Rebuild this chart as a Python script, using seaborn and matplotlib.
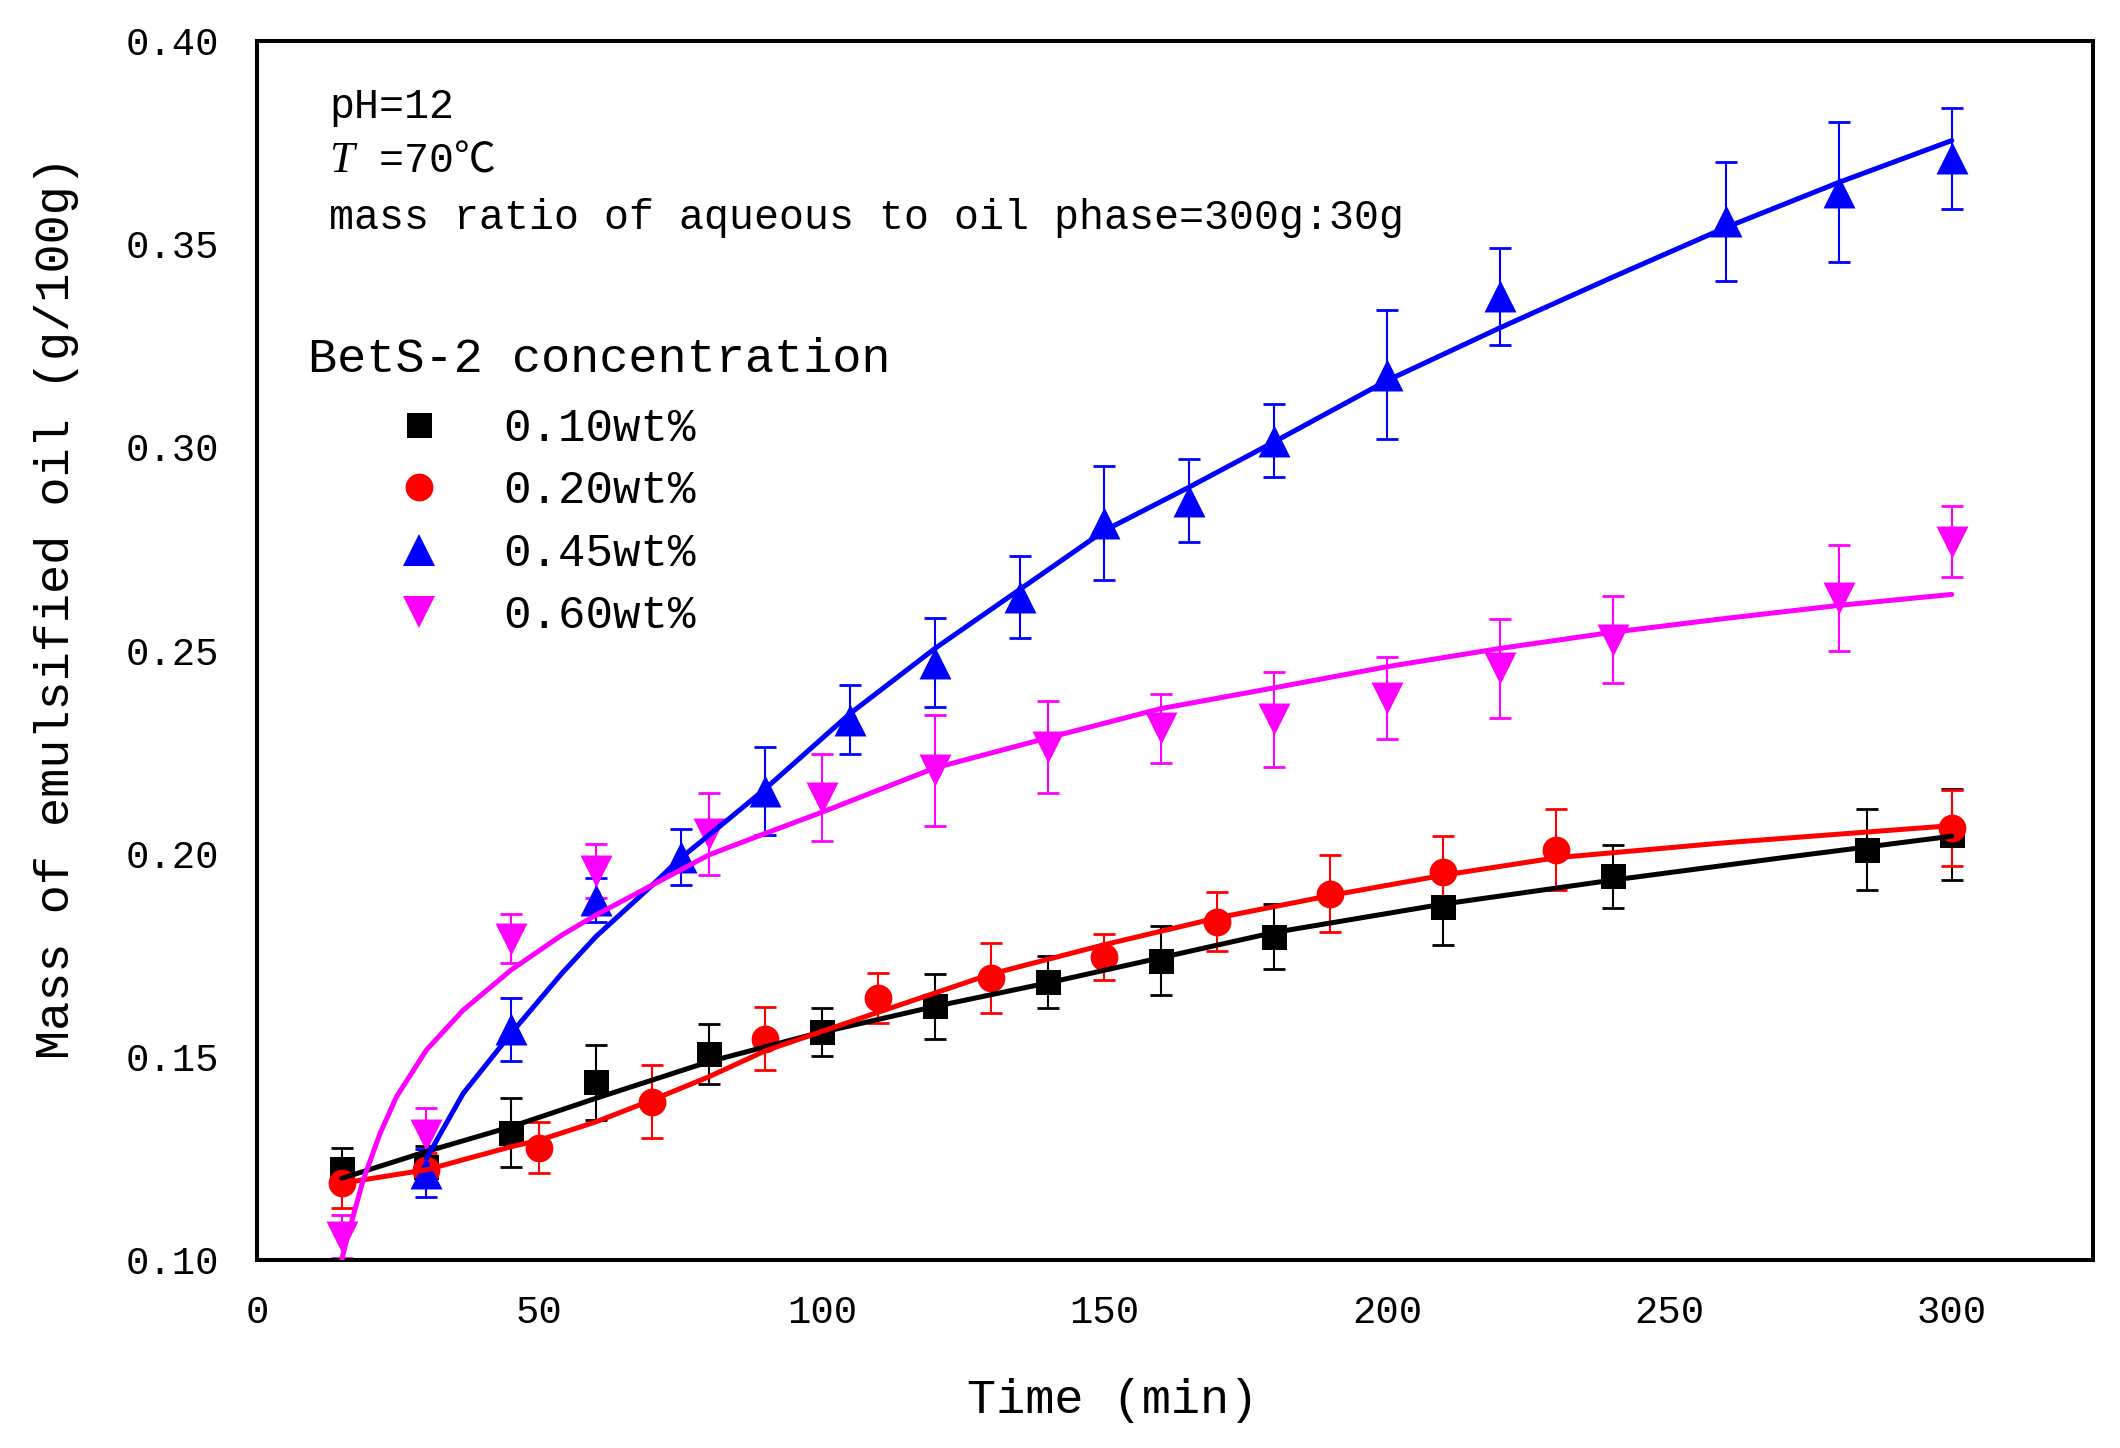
import numpy as np
import pandas as pd
import matplotlib
matplotlib.use("Agg")
import matplotlib.pyplot as plt
from matplotlib.lines import Line2D
from matplotlib.ticker import FormatStrFormatter
import seaborn as sns

# ---------------- data ----------------
labels = ["0.10wt%", "0.20wt%", "0.45wt%", "0.60wt%"]

t_010 = [15, 30, 45, 60, 80, 100, 120, 140, 160, 180, 210, 240, 285, 300]
m_010 = [0.1225, 0.1230, 0.1313, 0.1437, 0.1507, 0.1560, 0.1624, 0.1684, 0.1737, 0.1796, 0.1868, 0.1944, 0.2010, 0.2047]
e_010 = [0.0050, 0.0050, 0.0085, 0.0092, 0.0075, 0.0059, 0.0081, 0.0063, 0.0086, 0.0080, 0.0094, 0.0078, 0.0100, 0.0113]

t_020 = [15, 30, 50, 70, 90, 110, 130, 150, 170, 190, 210, 230, 300]
m_020 = [0.1189, 0.1222, 0.1276, 0.1390, 0.1545, 0.1645, 0.1694, 0.1745, 0.1833, 0.1901, 0.1956, 0.2010, 0.2063]
e_020 = [0.0060, 0.0042, 0.0063, 0.0089, 0.0077, 0.0061, 0.0085, 0.0057, 0.0072, 0.0095, 0.0088, 0.0100, 0.0094]

t_045 = [30, 45, 60, 75, 90, 105, 120, 135, 150, 165, 180, 200, 220, 260, 280, 300]
m_045 = [0.1214, 0.1568, 0.1885, 0.1991, 0.2154, 0.2330, 0.2470, 0.2631, 0.2813, 0.2869, 0.3016, 0.3179, 0.3372, 0.3556, 0.3628, 0.3711]
e_045 = [0.0060, 0.0078, 0.0054, 0.0069, 0.0108, 0.0085, 0.0110, 0.0101, 0.0140, 0.0103, 0.0090, 0.0159, 0.0119, 0.0147, 0.0172, 0.0125]

t_060 = [15, 30, 45, 60, 80, 100, 120, 140, 160, 180, 200, 220, 240, 280, 300]
m_060 = [0.1057, 0.1308, 0.1791, 0.1957, 0.2048, 0.2138, 0.2205, 0.2262, 0.2309, 0.2331, 0.2383, 0.2456, 0.2527, 0.2630, 0.2768]
e_060 = [0.0053, 0.0066, 0.0060, 0.0067, 0.0101, 0.0107, 0.0137, 0.0113, 0.0085, 0.0117, 0.0100, 0.0122, 0.0106, 0.0130, 0.0087]

# fitted curves
ft_010 = [15, 30, 45, 60, 80, 98, 120, 140, 160, 180, 210, 240, 270, 300]
fm_010 = [0.1201, 0.1267, 0.1328, 0.1398, 0.1488, 0.1554, 0.1624, 0.1682, 0.1744, 0.1806, 0.1876, 0.1935, 0.1990, 0.2043]

ft_020 = [15, 30, 45, 50, 60, 70, 80, 90, 110, 130, 150, 170, 190, 210, 230, 260, 300]
fm_020 = [0.1189, 0.1222, 0.1279, 0.1295, 0.1340, 0.1394, 0.1451, 0.1515, 0.1610, 0.1704, 0.1776, 0.1842, 0.1897, 0.1947, 0.1990, 0.2027, 0.2069]

ft_045 = [30, 36.5, 45, 54, 60, 70, 75, 84, 90, 105, 120, 135, 150, 165, 180, 200, 220, 240, 260, 280, 300]
fm_045 = [0.1250, 0.1410, 0.1558, 0.1706, 0.1796, 0.1923, 0.1989, 0.2091, 0.2160, 0.2345, 0.2505, 0.2650, 0.2795, 0.2902, 0.3013, 0.3164, 0.3294, 0.3419, 0.3541, 0.3652, 0.3755]

ft_060 = [15, 16, 18.8, 21.8, 24.7, 30, 36.5, 45, 54, 60, 70, 80, 90, 100, 120, 140, 160, 180, 200, 220, 240, 260, 280, 300]
fm_060 = [0.1000, 0.1057, 0.1197, 0.1312, 0.1402, 0.1517, 0.1615, 0.1714, 0.1800, 0.1849, 0.1923, 0.1997, 0.2050, 0.2102, 0.2211, 0.2285, 0.2357, 0.2408, 0.2460, 0.2505, 0.2545, 0.2579, 0.2611, 0.2638]

x_ticks = [0, 50, 100, 150, 200, 250, 300]
y_ticks = [0.10, 0.15, 0.20, 0.25, 0.30, 0.35, 0.40]

# ---------------- style ----------------
sns.set_theme(style="white")
plt.rcParams["font.family"] = ["Liberation Mono", "Noto Sans CJK SC", "DejaVu Sans"]
plt.rcParams["axes.edgecolor"] = "black"
plt.rcParams["axes.linewidth"] = 2.9

colors = ["#000000", "#FF0000", "#0000FF", "#FF00FF"]
markers = ["s", "o", "^", "v"]
msizes = [18, 20, 23, 23]

series = [
    (t_010, m_010, e_010, ft_010, fm_010),
    (t_020, m_020, e_020, ft_020, fm_020),
    (t_045, m_045, e_045, ft_045, fm_045),
    (t_060, m_060, e_060, ft_060, fm_060),
]

fig = plt.figure(figsize=(21.2, 14.48), dpi=100)
ax = fig.add_axes([257 / 2120, 1 - 1260 / 1448, (2093 - 257) / 2120, (1260 - 41) / 1448])

for i, (t, m, e, ft, fm) in enumerate(series):
    df = pd.DataFrame({"t": t, "m": m, "e": e})
    ax.errorbar(df["t"], df["m"], yerr=df["e"], fmt="none", ecolor=colors[i],
                elinewidth=1.5, capsize=8, capthick=2.0, zorder=2 + i * 0.1)
    sns.scatterplot(data=df, x="t", y="m", marker=markers[i], s=msizes[i] ** 2,
                    color=colors[i], edgecolor=colors[i], linewidth=0, ax=ax,
                    zorder=3 + i * 0.1, legend=False)

for i, (t, m, e, ft, fm) in enumerate(series):
    fit = pd.DataFrame({"t": ft, "m": fm})
    sns.lineplot(data=fit, x="t", y="m", color=colors[i], linewidth=3.6, ax=ax,
                 estimator=None, sort=True, zorder=4 + i * 0.1, legend=False)

ax.set_xlim(0, 325)
ax.set_ylim(0.10, 0.40)
ax.set_xticks(x_ticks)
ax.set_yticks(y_ticks)
ax.yaxis.set_major_formatter(FormatStrFormatter("%.2f"))
ax.tick_params(axis="both", length=0, labelsize=28, colors="black")
ax.tick_params(axis="x", pad=25)
ax.tick_params(axis="y", pad=27)
for s in ax.spines.values():
    s.set_visible(True)
    s.set_linewidth(2.9)
    s.set_color("black")

ax.set_xlabel("Time (min)", fontsize=35, color="black")
ax.set_ylabel("Mass of emulsified oil (g/100g)", fontsize=35, color="black")
ax.xaxis.set_label_coords(0.466, -0.115)
ax.xaxis.label.set_va("center")
ax.yaxis.set_label_coords(-0.109, 0.535)
ax.yaxis.label.set_va("center")

# annotations
ax.text(0.0392, 0.937, "pH=12", transform=ax.transAxes, fontsize=30, va="baseline", color="black")
t_it = ax.text(0.0392, 0.8925, "T", transform=ax.transAxes, fontsize=32, va="baseline",
               family=["Liberation Serif"], style="italic", color="black")
ax.annotate(" =70℃", xy=(1, 0), xycoords=t_it, fontsize=30, va="bottom", ha="left", color="black")
ax.text(0.0392, 0.8454, "mass ratio of aqueous to oil phase=300g:30g", transform=ax.transAxes,
        fontsize=30, va="baseline", color="black")

ax.text(0.0278, 0.7285, "BetS-2 concentration", transform=ax.transAxes, fontsize=35,
        va="baseline", color="black")

handles = [Line2D([0], [0], marker=markers[i], color=colors[i], linestyle="None",
                  markersize=msizes[i], markeredgewidth=0) for i in range(4)]
ax.legend(handles=handles, labels=labels, loc="upper left",
          bbox_to_anchor=(379 / 2120, 1 - 407 / 1448), bbox_transform=fig.transFigure,
          frameon=False, fontsize=33, handlelength=1.75, handletextpad=0.95,
          labelspacing=0.40, borderpad=0, borderaxespad=0, labelcolor="black")

fig.savefig("out.png", dpi=100, facecolor="white")
